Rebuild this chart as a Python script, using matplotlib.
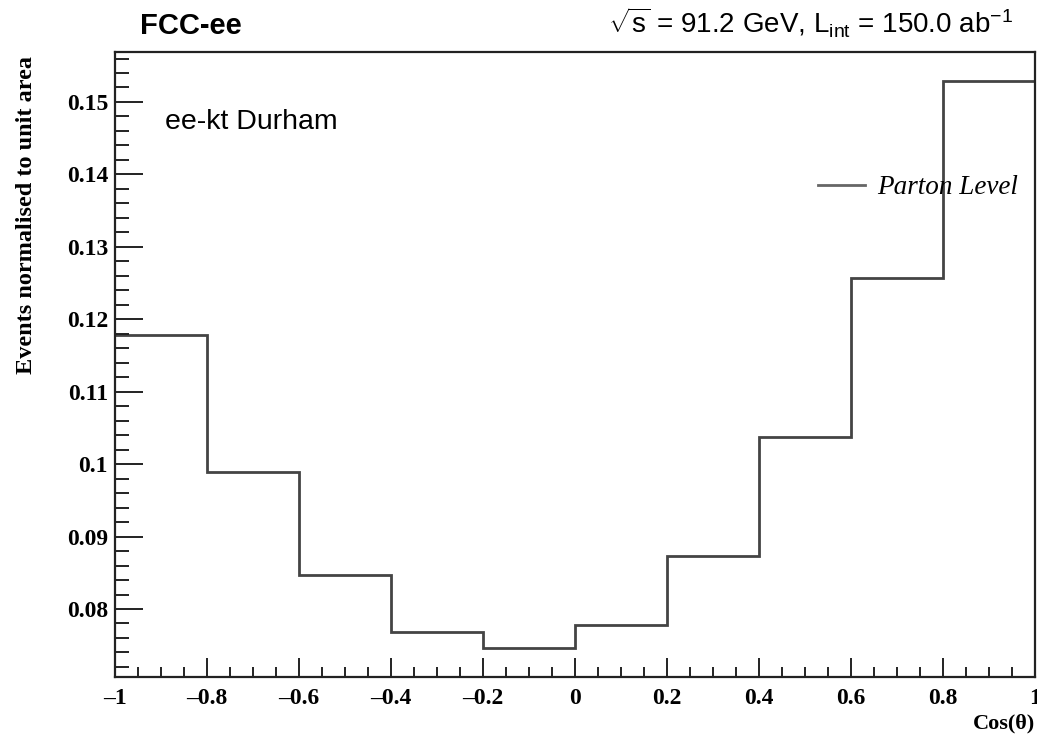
import numpy as np
import matplotlib
matplotlib.use("Agg")
import matplotlib.pyplot as plt
from matplotlib.ticker import MultipleLocator, FuncFormatter
from matplotlib.lines import Line2D

# ---- data ----
bin_edges = [-1.0, -0.8, -0.6, -0.4, -0.2, 0.0, 0.2, 0.4, 0.6, 0.8, 1.0]
parton_level = [0.1178, 0.0989, 0.0847, 0.0768, 0.0746,
                0.0778, 0.0873, 0.1037, 0.1257, 0.1529]
x_ticks = [-1, -0.8, -0.6, -0.4, -0.2, 0, 0.2, 0.4, 0.6, 0.8, 1]
y_ticks = [0.08, 0.09, 0.10, 0.11, 0.12, 0.13, 0.14, 0.15]

W, H = 1037, 736
plt.rcParams["mathtext.fontset"] = "custom"
plt.rcParams["mathtext.rm"] = "Liberation Sans"
plt.rcParams["mathtext.it"] = "Liberation Sans"

fig = plt.figure(figsize=(W / 100, H / 100), dpi=100)
ax = fig.add_axes([115 / W, 1 - 677 / H, (1035 - 115) / W, (677 - 52) / H])

line_color = "#444444"
ax.stairs(parton_level, bin_edges, color=line_color, linewidth=2.0, baseline=None)

ax.set_xlim(-1, 1)
ax.set_ylim(0.07061, 0.15690)

for s in ax.spines.values():
    s.set_color("#222222")
    s.set_linewidth(1.6)

ax.xaxis.set_minor_locator(MultipleLocator(0.05))
ax.yaxis.set_minor_locator(MultipleLocator(0.002))
ax.set_xticks(x_ticks)
ax.set_yticks(y_ticks)


def xfmt(v, pos):
    if abs(v) < 1e-9:
        return "0"
    return ("%g" % v).replace("-", "\u2013")


def yfmt(v, pos):
    return "%g" % round(v, 3)


ax.xaxis.set_major_formatter(FuncFormatter(xfmt))
ax.yaxis.set_major_formatter(FuncFormatter(yfmt))

ax.tick_params(axis="y", which="major", direction="in", length=20, width=1.4,
               color="#222222", pad=5, left=True, right=False)
ax.tick_params(axis="y", which="minor", direction="in", length=10, width=1.4,
               color="#222222", left=True, right=False)
ax.tick_params(axis="x", which="major", direction="in", length=14, width=1.4,
               color="#222222", pad=8, bottom=True, top=False)
ax.tick_params(axis="x", which="minor", direction="in", length=7, width=1.4,
               color="#222222", bottom=True, top=False)

for lab in ax.get_xticklabels() + ax.get_yticklabels():
    lab.set_family("Liberation Serif")
    lab.set_fontweight("bold")
    lab.set_fontsize(17)

# axis titles
fig.text(27 / W, 1 - 215 / H, "Events normalised to unit area", rotation=90,
         ha="center", va="center", family="Liberation Serif", fontweight="bold",
         fontsize=17.5)
fig.text(1035 / W, 1 - 728 / H, "Cos(\u03b8)", ha="right", va="baseline",
         family="Liberation Serif", fontweight="bold", fontsize=16)

# header texts
fig.text(140 / W, 1 - 34 / H, "FCC-ee", ha="left", va="baseline",
         family="Liberation Sans", fontweight="bold", fontsize=21)
fig.text(1013 / W, 1 - 34 / H,
         r"$\sqrt{\mathrm{s}}$ = 91.2 GeV, L$_{\mathrm{int}}$ = 150.0 ab$^{\mathrm{-1}}$",
         ha="right", va="baseline", family="Liberation Sans", fontsize=20)

# in-plot annotation
ax.text(165 / W, 1 - 129 / H, "ee-kt Durham", transform=fig.transFigure,
        ha="left", va="baseline", family="Liberation Sans", fontsize=20.5)

# legend
handle = Line2D([], [], color="#666666", linewidth=2.0)
leg = ax.legend([handle], ["Parton Level"], loc="center left",
                bbox_to_anchor=(818 / W, 1 - 188 / H), bbox_transform=fig.transFigure,
                frameon=False, handlelength=1.74, handletextpad=0.44,
                borderaxespad=0, borderpad=0,
                prop={"family": "Liberation Serif", "style": "italic", "size": 19.5})

fig.savefig("out.png", dpi=100)
